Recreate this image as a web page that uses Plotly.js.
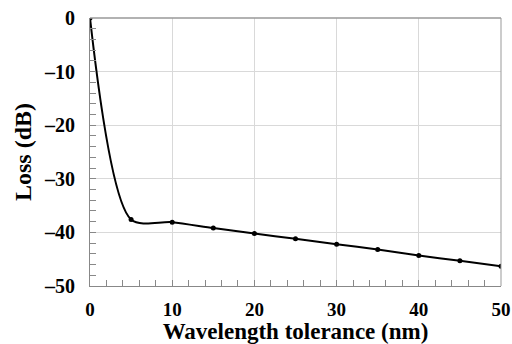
<!DOCTYPE html>
<html><head><meta charset="utf-8">
<script src="https://cdn.plot.ly/plotly-3.0.1.min.js"></script>
<style>body{margin:0;padding:0;background:#fff}#c{width:512px;height:344px}</style>
</head><body><div id="c"></div>
<script>
const wavelength = [0, 5, 10, 15, 20, 25, 30, 35, 40, 45, 50];
const loss = [0, -37.6, -38.1, -39.2, -40.2, -41.2, -42.2, -43.2, -44.3, -45.3, -46.3];
const xTicks = [0, 10, 20, 30, 40, 50];
const yTicks = [0, -10, -20, -30, -40, -50];
const yTickText = ['0', '\u201310', '\u201320', '\u201330', '\u201340', '\u201350'];

const fam = 'Liberation Serif, Times New Roman, serif';
const b = s => '<b>' + s + '</b>';
Plotly.newPlot('c', [{
  x: wavelength, y: loss, mode: 'lines+markers',
  line: {color: '#000', width: 2, shape: 'spline', smoothing: 0.8},
  marker: {color: '#000', size: 5}
}], {
  width: 512, height: 344,
  margin: {l: 90, r: 11, t: 18, b: 58},
  paper_bgcolor: '#fff', plot_bgcolor: '#fff',
  showlegend: false,
  font: {family: fam, color: '#000'},
  xaxis: {
    range: [0, 50], tickvals: xTicks, ticktext: xTicks.map(v => b(String(v))),
    showgrid: true, gridcolor: '#d9d9d9', gridwidth: 1,
    showline: true, linecolor: '#888', linewidth: 1,
    ticks: 'inside', ticklen: 6, tickcolor: '#888',
    minor: {ticks: 'inside', dtick: 2, ticklen: 6, tickcolor: '#888', showgrid: false},
    tickfont: {family: fam, size: 19, color: '#000'},
    ticklabelstandoff: 6,
    title: {text: b('Wavelength tolerance (nm)'), font: {family: fam, size: 23, color: '#000'}, standoff: 3},
    zeroline: false
  },
  yaxis: {
    range: [-50, 0], tickvals: yTicks, ticktext: yTickText.map(b),
    showgrid: true, gridcolor: '#d9d9d9', gridwidth: 1,
    showline: true, linecolor: '#888', linewidth: 1,
    ticks: 'inside', ticklen: 6, tickcolor: '#888',
    minor: {ticks: 'inside', dtick: 2, ticklen: 6, tickcolor: '#888', showgrid: false},
    tickfont: {family: fam, size: 20, color: '#000'},
    ticklabelstandoff: 10,
    title: {text: b('Loss (dB)'), font: {family: fam, size: 24, color: '#000'}, standoff: 5},
    zeroline: false
  },
  shapes: [
    {type: 'line', xref: 'paper', yref: 'paper', x0: 0, x1: 1, y0: 1, y1: 1, line: {color: '#999', width: 1.5}},
    {type: 'line', xref: 'paper', yref: 'paper', x0: 1, x1: 1, y0: 0, y1: 1, line: {color: '#999', width: 1}}
  ]
}, {staticPlot: true});
</script></body></html>
